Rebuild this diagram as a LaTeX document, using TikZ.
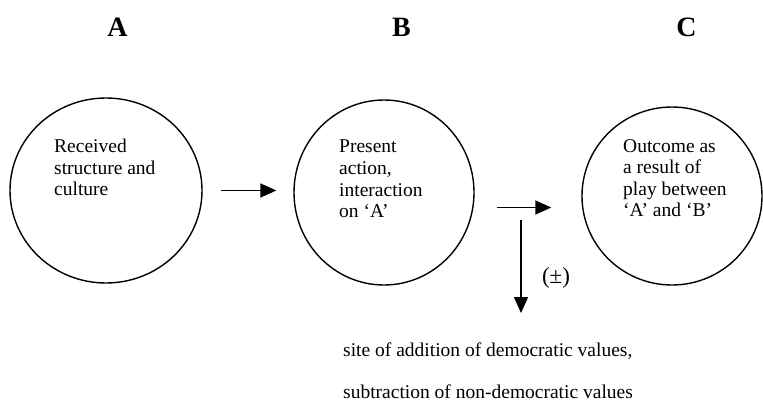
\documentclass[tikz,border=0pt]{standalone}
\usepackage{fontspec}
\setmainfont{Liberation Serif}
\usetikzlibrary{arrows.meta,shapes.geometric}
\begin{document}
\begin{tikzpicture}[x=1pt,y=-1pt,
  ring/.style={draw,line width=1.4pt,ellipse,inner sep=0pt},
  heading/.style={font=\fontsize{28}{32}\selectfont\bfseries,inner sep=0pt},
  body/.style={font=\fontsize{19.5}{21.6}\selectfont,align=left,inner sep=0pt,anchor=north west},
  flow/.style={line width=1.6pt,-{Triangle[length=16pt,width=14pt]}}]
\useasboundingbox (0,0) rectangle (763,420);

% column headings
\node[heading] (hA) at (117.5,27) {A};
\node[heading] (hB) at (401.5,27) {B};
\node[heading] (hC) at (686.5,27) {C};

% the three stages
\node[ring,minimum width=192pt,minimum height=185pt] (A) at (106,190.5) {};
\node[ring,minimum width=180pt,minimum height=185pt] (B) at (384,192.5) {};
\node[ring,minimum width=180pt,minimum height=178pt] (C) at (672,196) {};

\node[body] (tA) at (54,139) {Received\\structure and\\culture};
\node[body] (tB) at (339,140) {Present\\action,\\interaction\\on ‘A’};
\node[body] (tC) at (623,139) {Outcome as\\a result of\\play between\\‘A’ and ‘B’};

% note under the second stage
\node[font=\fontsize{19.5}{42}\selectfont,align=left,inner sep=0pt,anchor=north west]
  (note) at (343,343) {site of addition of democratic values,\\subtraction of non-democratic values};

% connectors
\coordinate (ab) at ([xshift=18pt]A.east);
\coordinate (abEnd) at ([xshift=-17pt]B.west);
\draw[flow] (ab) -- (ab -| abEnd);
\coordinate (bc) at ([shift={(22pt,-15pt)}]B.east);
\coordinate (bcEnd) at ([xshift=-30pt]C.west);
\draw[flow] (bc) -- (bc -| bcEnd);
\coordinate (drop) at (521,220);
\coordinate (dropEnd) at ([yshift=30pt]note.north);
\draw[flow] (drop) -- (drop |- dropEnd);
\node[font=\fontsize{23}{26}\selectfont,inner sep=0pt] (pm) at (556,278) {(±)};
\end{tikzpicture}
\end{document}
